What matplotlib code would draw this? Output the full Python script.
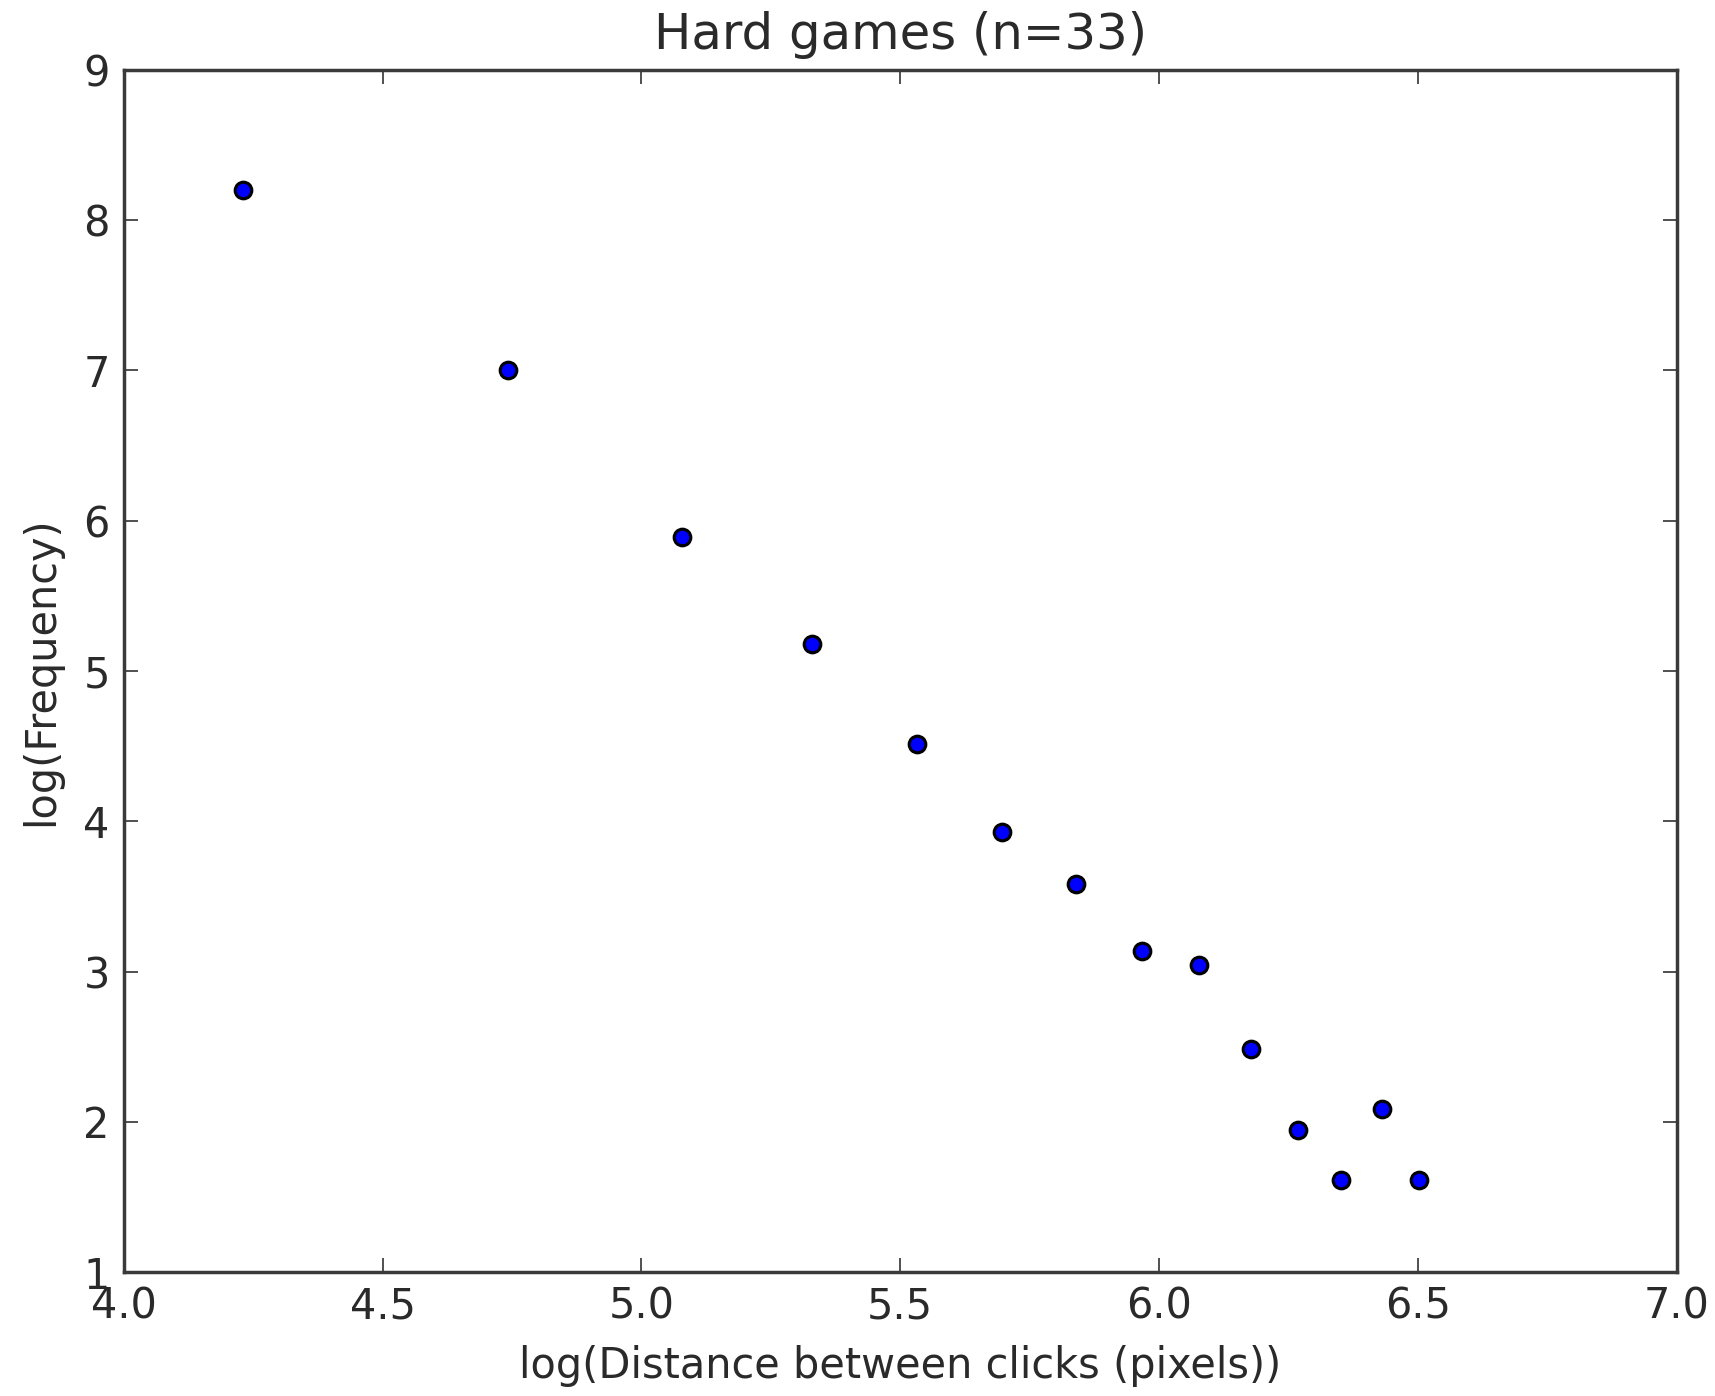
import numpy as np
import matplotlib
matplotlib.use("Agg")
import matplotlib.pyplot as plt

# log(distance between consecutive clicks) vs log(frequency), hard games
log_distance = [4.230, 4.742, 5.078, 5.329, 5.532, 5.697, 5.840,
                5.967, 6.077, 6.178, 6.269, 6.352, 6.430, 6.502]
log_frequency = [8.20, 7.00, 5.895, 5.182, 4.513, 3.931, 3.582,
                 3.138, 3.044, 2.484, 1.945, 1.611, 2.084, 1.611]

x_ticks = [4.0, 4.5, 5.0, 5.5, 6.0, 6.5, 7.0]
y_ticks = [1, 2, 3, 4, 5, 6, 7, 8, 9]

dpi = 249
fig = plt.figure(figsize=(1715 / dpi, 1396 / dpi), dpi=dpi)
ax = fig.add_axes([0.0721, 0.0888, 0.9056, 0.8611])

ink = "#2a2a2a"

ax.plot(log_distance, log_frequency, "o", color="blue",
        markeredgecolor="black", markeredgewidth=0.9, markersize=4.8)

ax.set_xlim(4.0, 7.0)
ax.set_ylim(1, 9)
ax.set_xticks(x_ticks)
ax.set_xticklabels([f"{t:.1f}" for t in x_ticks])
ax.set_yticks(y_ticks)

for side in ax.spines.values():
    side.set_linewidth(1.0)
    side.set_color("#3a3a3a")

ax.tick_params(direction="in", top=True, right=True, length=4, width=0.5,
               color="#3a3a3a", labelsize=12, labelcolor=ink, pad=4)

ax.set_title("Hard games (n=33)", fontsize=14.4, color=ink, pad=6)
ax.set_xlabel("log(Distance between clicks (pixels))", fontsize=12,
              color=ink, labelpad=5)
ax.set_ylabel("log(Frequency)", fontsize=12, color=ink, labelpad=6)

fig.savefig("out.png", dpi=dpi)
